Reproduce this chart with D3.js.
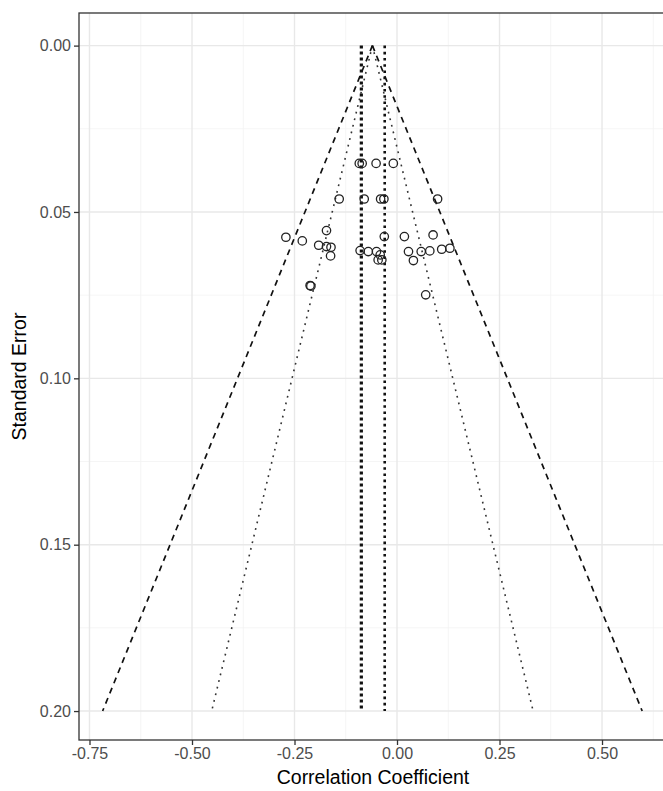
<!DOCTYPE html>
<html>
<head>
<meta charset="utf-8">
<script src="https://cdn.jsdelivr.net/npm/d3@7"></script>
<style>
  body { margin: 0; background: #fff; }
  svg { display: block; font-family: "Liberation Sans", Arial, sans-serif; }
</style>
</head>
<body>
<div id="funnel"></div>
<script>
// study effects (correlation) and their standard errors
var effects = [-0.092, -0.085, -0.051, -0.009,
  -0.141, -0.080, -0.040, -0.032, 0.099,
  -0.172, -0.271, -0.231, -0.031, 0.018, 0.088,
  -0.191, -0.172, -0.161, -0.162, -0.090, -0.070, -0.050, -0.046, -0.037, -0.041,
  0.028, 0.040, 0.059, 0.080, 0.109, 0.129,
  -0.212, -0.210, 0.070];
var stdErrors = [0.0354, 0.0354, 0.0354, 0.0354,
  0.0461, 0.0461, 0.0461, 0.0461, 0.0461,
  0.0556, 0.0576, 0.0587, 0.0574, 0.0574, 0.0569,
  0.0600, 0.0604, 0.0606, 0.0632, 0.0616, 0.0619, 0.0619, 0.0644, 0.0644, 0.0629,
  0.0619, 0.0646, 0.0619, 0.0617, 0.0612, 0.0609,
  0.0721, 0.0723, 0.0749];

var funnelCentre = -0.06;
var summaryLines = [-0.087, -0.030];   // the two vertical dotted estimates
var funnelSe = [0, 0.2];
var xTicks = [-0.75, -0.5, -0.25, 0, 0.25, 0.5];
var yTicks = [0, 0.05, 0.10, 0.15, 0.20];

var width = 663, height = 791;
var panel = {left: 79, right: 667, top: 13, bottom: 740};

var svg = d3.select("#funnel")
  .append("svg")
    .attr("width", width)
    .attr("height", height);

var x = d3.scaleLinear().domain([-0.7756, 0.6585]).range([panel.left, panel.right]);
var y = d3.scaleLinear().domain([-0.0098, 0.2087]).range([panel.top, panel.bottom]);

svg.append("clipPath").attr("id", "clip")
  .append("rect")
    .attr("x", panel.left).attr("y", panel.top)
    .attr("width", panel.right - panel.left).attr("height", panel.bottom - panel.top);

var g = svg.append("g").attr("clip-path", "url(#clip)");

// minor grid
var xMinor = d3.range(-0.875, 0.7, 0.25), yMinor = d3.range(-0.025, 0.22, 0.05);
g.selectAll(".xminor").data(xMinor).enter().append("line")
  .attr("x1", d => x(d)).attr("x2", d => x(d))
  .attr("y1", panel.top).attr("y2", panel.bottom)
  .style("stroke", "#f3f3f3").style("stroke-width", 0.8);
g.selectAll(".yminor").data(yMinor).enter().append("line")
  .attr("y1", d => y(d)).attr("y2", d => y(d))
  .attr("x1", panel.left).attr("x2", panel.right)
  .style("stroke", "#f3f3f3").style("stroke-width", 0.8);

// major grid
g.selectAll(".xmajor").data(xTicks).enter().append("line")
  .attr("x1", d => x(d)).attr("x2", d => x(d))
  .attr("y1", panel.top).attr("y2", panel.bottom)
  .style("stroke", "#e8e8e8").style("stroke-width", 1.4);
g.selectAll(".ymajor").data(yTicks).enter().append("line")
  .attr("y1", d => y(d)).attr("y2", d => y(d))
  .attr("x1", panel.left).attr("x2", panel.right)
  .style("stroke", "#e8e8e8").style("stroke-width", 1.4);

// funnel: 95% (dotted) and 99.9% (dashed) limits
var line = d3.line().x(d => x(d[0])).y(d => y(d[1]));
function funnelSide(z, sign) {
  return funnelSe.map(s => [funnelCentre + sign * z * s, s]);
}
[[1.96, "1.8,5", 1.6, "#333"], [3.29, "6,5", 1.7, "#111"]].forEach(function (f) {
  [-1, 1].forEach(function (sign) {
    g.append("path")
      .attr("d", line(funnelSide(f[0], sign)))
      .style("fill", "none")
      .style("stroke", f[3])
      .style("stroke-width", f[2])
      .style("stroke-dasharray", f[1]);
  });
});

// vertical summary lines
g.selectAll(".summary").data(summaryLines).enter().append("line")
  .attr("x1", d => x(d)).attr("x2", d => x(d))
  .attr("y1", y(0)).attr("y2", y(0.2))
  .style("stroke", "#111")
  .style("stroke-width", (d, i) => i === 0 ? 3.2 : 2.6)
  .style("stroke-dasharray", (d, i) => i === 0 ? "3,3" : "2.6,3.6");

// studies
g.selectAll("circle").data(effects).enter().append("circle")
  .attr("cx", d => x(d))
  .attr("cy", (d, i) => y(stdErrors[i]))
  .attr("r", 4.2)
  .style("fill", "none")
  .style("stroke", "#222")
  .style("stroke-width", 1.3);

// panel border
svg.append("rect")
  .attr("x", panel.left).attr("y", panel.top)
  .attr("width", panel.right - panel.left).attr("height", panel.bottom - panel.top)
  .style("fill", "none").style("stroke", "#333").style("stroke-width", 1.3);

// axes
var fmt = d => d3.format(".2f")(d).replace("\u2212", "-");
var xAxis = svg.append("g")
  .attr("transform", "translate(0," + panel.bottom + ")")
  .call(d3.axisBottom(x).tickValues(xTicks).tickFormat(fmt).tickSize(5).tickPadding(3));
var yAxis = svg.append("g")
  .attr("transform", "translate(" + panel.left + ",0)")
  .call(d3.axisLeft(y).tickValues(yTicks).tickFormat(fmt).tickSize(5).tickPadding(3));
[xAxis, yAxis].forEach(function (a) {
  a.select(".domain").remove();
  a.selectAll(".tick line").style("stroke", "#333").style("stroke-width", 1.3);
  a.selectAll(".tick text")
    .style("fill", "#4d4d4d")
    .style("font-size", "16px")
    .style("font-family", "Liberation Sans, Arial, sans-serif");
});

svg.append("text")
  .attr("x", (panel.left + panel.right) / 2)
  .attr("y", 784)
  .attr("text-anchor", "middle")
  .style("font-size", "19.5px")
  .text("Correlation Coefficient");

svg.append("text")
  .attr("transform", "translate(26," + (panel.top + panel.bottom) / 2 + ") rotate(-90)")
  .attr("text-anchor", "middle")
  .style("font-size", "19.5px")
  .text("Standard Error");
</script>
</body>
</html>
